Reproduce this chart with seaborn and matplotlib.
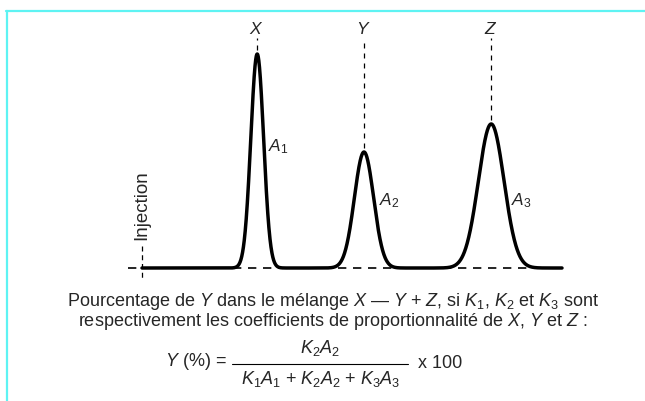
import numpy as np
import pandas as pd
import matplotlib
matplotlib.use("Agg")
import matplotlib.pyplot as plt
from matplotlib.lines import Line2D
import seaborn as sns

# Peak parameters of the chromatogram (retention time in min, relative height)
compounds = ["X", "Y", "Z"]
area_labels = ["A_1", "A_2", "A_3"]
retention_times = [2.88, 5.55, 8.73]
peak_heights = [100.0, 54.2, 67.3]
peak_widths = [0.16, 0.24, 0.32]   # standard deviation of each peak (min)
run_end = 10.5

sns.set_theme(style="white")
plt.rcParams["font.family"] = ["Liberation Sans", "DejaVu Sans"]
plt.rcParams["mathtext.fontset"] = "custom"
plt.rcParams["mathtext.rm"] = "Liberation Sans"
plt.rcParams["mathtext.it"] = "Liberation Sans:italic"
plt.rcParams["mathtext.bf"] = "Liberation Sans:bold"

W, H = 645, 401
fig = plt.figure(figsize=(W / 100, H / 100), dpi=100)
fig.patch.set_facecolor("white")

# chromatogram axes: 40 px per minute, 2.14 px per signal unit
px_t, px_s = 40.0, 2.14
x_inj, y_base = 142, 268
ax = fig.add_axes([0, 0, 1, 1])
ax.set_xlim(-x_inj / px_t, (W - x_inj) / px_t)
ax.set_ylim(-(H - y_base) / px_s, y_base / px_s)
ax.axis("off")

t = np.linspace(0, run_end, 3000)
signal = np.zeros_like(t)
for rt, h, w in zip(retention_times, peak_heights, peak_widths):
    signal += h * np.exp(-0.5 * ((t - rt) / w) ** 2)
trace = pd.DataFrame({"t": t, "signal": signal})

# dashed baseline under the trace
ax.plot([-0.35, run_end], [0, 0], color="black", lw=1.2, dashes=(5, 4), zorder=1)
sns.lineplot(data=trace, x="t", y="signal", ax=ax, color="black", lw=2.5,
             zorder=3, legend=False)

# peak markers and labels
top_s = (y_base - 38) / px_s
for name, rt, h in zip(compounds, retention_times, peak_heights):
    ax.plot([rt, rt], [h + 2, top_s], color="black", lw=0.9, dashes=(4, 4), zorder=2)
    ax.text(rt - 0.04, (y_base - 29) / px_s, name, style="italic", fontsize=12.5,
            ha="center", va="center")

a_pos = [(3.15, 56.5), (5.93, 31.3), (9.22, 31.3)]
for al, (ta, sa) in zip(area_labels, a_pos):
    ax.text(ta, sa, f"${al}$", fontsize=12.5, ha="left", va="center")

# injection marker
ax.plot([0, 0], [(y_base - 246) / px_s, -(280 - y_base) / px_s], color="black",
        lw=0.9, dashes=(4, 3), zorder=2)
ax.text(0, (y_base - 205) / px_s, "Injection", rotation=90, fontsize=13.5,
        ha="center", va="center")

# frame lines
fig.add_artist(Line2D([6 / W, 1], [1 - 11 / H, 1 - 11 / H], color="#5ef3f3", lw=1.6))
fig.add_artist(Line2D([6.5 / W, 6.5 / W], [0, 1 - 11 / H], color="#5ef3f3", lw=1.6))

# caption
def fy(y):
    return 1 - y / H

fs = 13
fig.text(333 / W, fy(301),
         "Pourcentage de $Y$ dans le mélange $X$ — $Y$ + $Z$, si $K_1$, $K_2$ et $K_3$ sont",
         fontsize=fs, ha="center", va="center")
fig.text(333 / W, fy(321),
         "respectivement les coefficients de proportionnalité de $X$, $Y$ et $Z$ :",
         fontsize=fs, ha="center", va="center")

fig.text(227 / W, fy(362), "$Y$ (%) =", fontsize=fs, ha="right", va="center")
fig.text(320 / W, fy(348), "$K_2A_2$", fontsize=fs, ha="center", va="center")
fig.text(321 / W, fy(379), "$K_1A_1$ + $K_2A_2$ + $K_3A_3$", fontsize=fs,
         ha="center", va="center")
fig.add_artist(Line2D([232 / W, 408 / W], [fy(364), fy(364)], color="black", lw=0.8))
fig.text(418 / W, fy(364), "x 100", fontsize=fs, ha="left", va="center")

fig.savefig("out.png", dpi=100)
